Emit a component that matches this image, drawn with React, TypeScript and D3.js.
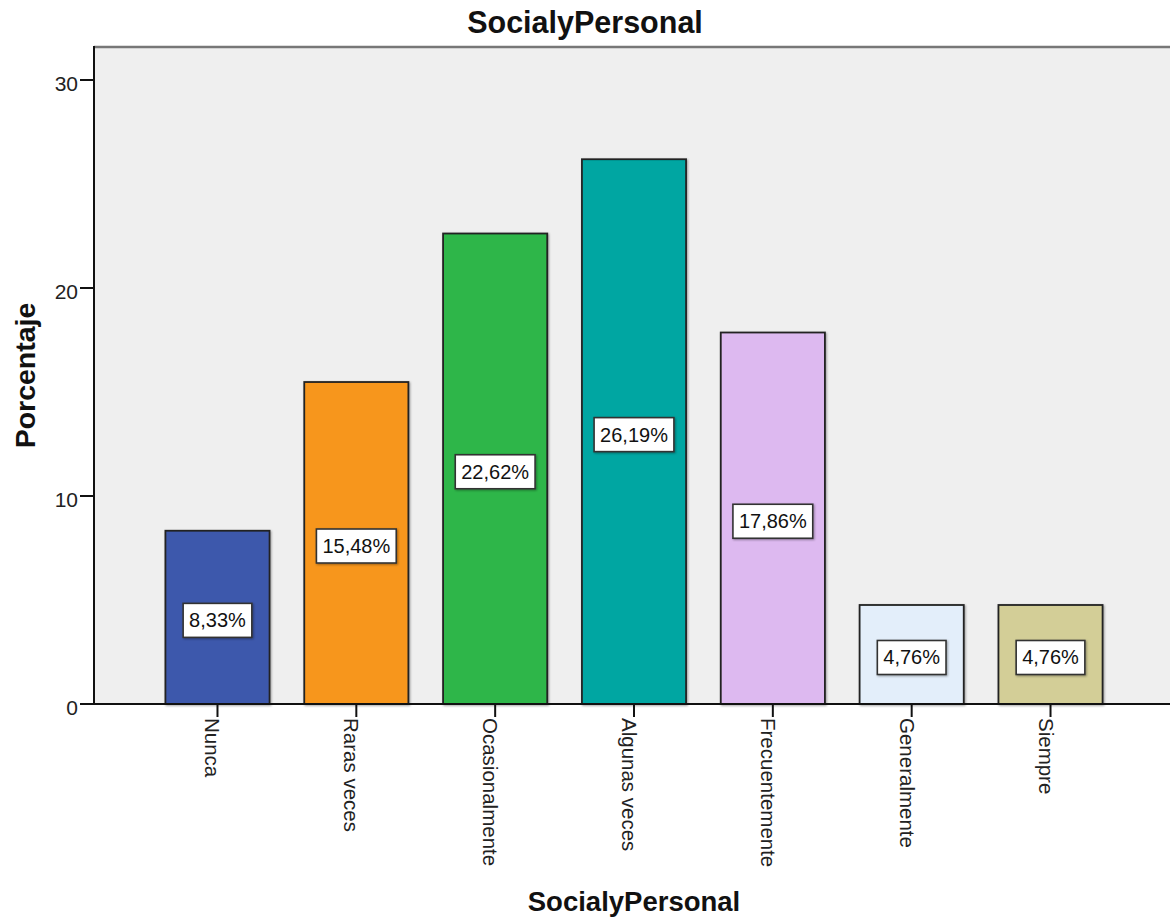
import React from "react";
import * as d3 from "d3";

const categories = ["Nunca", "Raras veces", "Ocasionalmente", "Algunas veces", "Frecuentemente", "Generalmente", "Siempre"];
const values = [8.33, 15.48, 22.62, 26.19, 17.86, 4.76, 4.76];
const labels = ["8,33%", "15,48%", "22,62%", "26,19%", "17,86%", "4,76%", "4,76%"];
const colors = ["#3E58AC", "#F7961F", "#2EB64A", "#00A6A2", "#DDB9F0", "#E3EEFA", "#D3CE97"];
const yTicks = [0, 10, 20, 30];
const title = "SocialyPersonal";
const xTitle = "SocialyPersonal";
const yTitle = "Porcentaje";

const W = 1170;
const H = 920;
const left = 94;
const right = 1172;
const top = 47;
const bottom = 704;

export default function App() {
  const x = d3.scaleBand<string>().domain(categories).range([left + 2, right]).paddingInner(0.25).paddingOuter(0.5);
  const y = d3.scaleLinear().domain([0, 30]).range([bottom, bottom - 624]);
  const font = "Arial, 'Liberation Sans', sans-serif";

  const textW = (s: string) => {
    let w = 0;
    for (const c of s) {
      if (c === ",") w += 0.278;
      else if (c === "%") w += 0.889;
      else w += 0.556;
    }
    return w * 20;
  };

  return (
    <svg width={W} height={H} style={{ position: "absolute", left: 0, top: 0, background: "#fff" }} fontFamily={font}>
      <defs>
        <filter id="sh" x="-10%" y="-10%" width="130%" height="130%">
          <feDropShadow dx="1" dy="1" stdDeviation="0.8" floodColor="#000" floodOpacity="0.35" />
        </filter>
      </defs>
      <text x={585} y={33} textAnchor="middle" fontSize={30.5} fontWeight="bold" fill="#111">{title}</text>
      <rect x={left} y={top} width={right - left} height={bottom - top} fill="#EFEFEF" />
      <line x1={left} x2={right} y1={top} y2={top} stroke="#777" strokeWidth={2.5} />

      {categories.map((c, i) => {
        const bx = x(c)!;
        const bw = x.bandwidth();
        const y0 = y(values[i]);
        return (
          <rect key={c} x={bx} y={y0} width={bw} height={bottom - y0} fill={colors[i]} stroke="#222" strokeWidth={1.8} filter="url(#sh)" />
        );
      })}

      {categories.map((c, i) => {
        const cx = x(c)! + x.bandwidth() / 2;
        const mid = (y(values[i]) + bottom) / 2 + 3;
        const tw = textW(labels[i]) + 12;
        return (
          <g key={"l" + c}>
            <rect x={cx - tw / 2} y={mid - 17} width={tw} height={34} fill="#fff" stroke="#333" strokeWidth={1.6} filter="url(#sh)" />
            <text x={cx} y={mid + 7} textAnchor="middle" fontSize={20} fill="#111">{labels[i]}</text>
          </g>
        );
      })}

      <line x1={left} x2={left} y1={top - 1} y2={bottom} stroke="#111" strokeWidth={2} />
      <line x1={left} x2={right} y1={bottom} y2={bottom} stroke="#111" strokeWidth={2} />

      {yTicks.map((t) => (
        <g key={t}>
          <line x1={left - 14} x2={left} y1={y(t)} y2={y(t)} stroke="#111" strokeWidth={2} />
          <text x={left - 16} y={y(t) + 11} textAnchor="end" fontSize={21} fill="#222">{t}</text>
        </g>
      ))}

      {categories.map((c) => {
        const cx = x(c)! + x.bandwidth() / 2;
        return (
          <g key={"t" + c}>
            <line x1={cx} x2={cx} y1={bottom} y2={bottom + 13} stroke="#111" strokeWidth={2} />
            <text transform={`translate(${cx - 12},${bottom + 14}) rotate(90)`} fontSize={20.5} fill="#222">{c}</text>
          </g>
        );
      })}

      <text transform={`translate(35,${(top + bottom) / 2}) rotate(-90)`} textAnchor="middle" fontSize={28.5} fontWeight="bold" fill="#111">{yTitle}</text>
      <text x={634} y={911} textAnchor="middle" fontSize={27.5} fontWeight="bold" fill="#111">{xTitle}</text>
    </svg>
  );
}
